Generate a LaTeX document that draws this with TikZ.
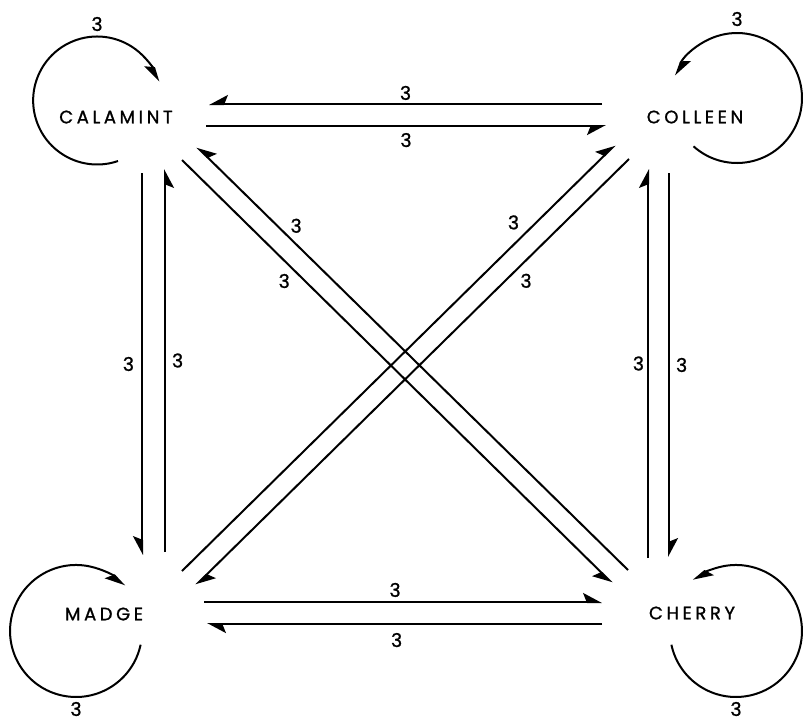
\documentclass[tikz,border=0pt]{standalone}
\usepackage{fontspec}
\usepackage{tikz}
\usetikzlibrary{arrows.meta}
\newfontfamily\plfont[LetterSpace=20, FakeBold=1.2]{Poppins}
\newfontfamily\numfont[FakeBold=1.0]{Poppins}

\begin{document}
\begin{tikzpicture}[x=1pt, y=1pt,
  place/.style={inner sep=0pt, font=\fontsize{18}{18}\selectfont\plfont},
  flow/.style={-{Stealth[harpoon, length=17pt, width=18pt, inset=3.5pt]}, line width=2pt},
  flowsw/.style={-{Stealth[harpoon, swap, length=17pt, width=18pt, inset=3.5pt]}, line width=2pt},
  lbl/.style={inner sep=2pt, font=\fontsize{19}{19}\selectfont\numfont}
]
\useasboundingbox (0,0) rectangle (803,-721);
% ================= the four places =================
\node[place] (cal) at (116,-117) {CALAMINT};
\node[place] (col) at (695,-117) {COLLEEN};
\node[place] (mad) at (104,-614) {MADGE};
\node[place] (che) at (692,-613) {CHERRY};
% ================= top and bottom pairs =================
\draw[flowsw] ([shift={(-93,13)}]col.center) -- node[lbl, above=1pt]{3} ([shift={(93,13)}]cal.center);
\draw[flowsw] ([shift={(90,-9)}]cal.center) -- node[lbl, below=4pt]{3} ([shift={(-89,-9)}]col.center);
\draw[flow] ([shift={(100,12)}]mad.center) -- node[lbl, above=2pt, pos=.48]{3} ([shift={(-90,11)}]che.center);
\draw[flow] ([shift={(-90,-11)}]che.center) -- node[lbl, below=6pt, pos=.52]{3} ([shift={(103,-10)}]mad.center);
% ================= left and right pairs =================
\draw[flowsw] ([shift={(26,-56)}]cal.center) -- node[lbl, left=5pt]{3} ([shift={(38,59)}]mad.center);
\draw[flowsw] ([shift={(61,62)}]mad.center) -- node[lbl, right=4pt]{3} ([shift={(49,-52)}]cal.center);
\draw[flow] ([shift={(-44,55)}]che.center) -- node[lbl, left=1pt]{3} ([shift={(-47,-52)}]col.center);
\draw[flow] ([shift={(-26,-56)}]col.center) -- node[lbl, right=4pt]{3} ([shift={(-23,56)}]che.center);
% ================= diagonals =================
\draw[flowsw] ([shift={(-64,43)}]che.center) -- node[lbl, above right=0pt, pos=.79]{3} ([shift={(81,-30)}]cal.center);
\draw[flowsw] ([shift={(66,-43)}]cal.center) -- node[lbl, below left=1pt, pos=.26]{3} ([shift={(-80,30)}]che.center);
\draw[flow] ([shift={(78,43)}]mad.center) -- node[lbl, above left=2pt, pos=.79]{3} ([shift={(-80,-28)}]col.center);
\draw[flow] ([shift={(-66,-42)}]col.center) -- node[lbl, below right=1pt, pos=.26]{3} ([shift={(92,29)}]mad.center);
% ================= self loops =================
\draw[flowsw] ([shift={(2,-44)}]cal.center) arc[start angle=-71, end angle=-343, radius=64];
\node[lbl] (calx) at ([shift={(-19,93)}]cal.center) {3};
\draw[flow] ([shift={(-1.5,-29.3)}]col.center) arc[start angle=-132, end angle=160, radius=65];
\node[lbl] (colx) at ([shift={(42,98)}]col.center) {3};
\draw[flowsw] ([shift={(36.6,-30.7)}]mad.center) arc[start angle=-12, end angle=-317, radius=66];
\node[lbl] (madx) at ([shift={(-28,-95)}]mad.center) {3};
\draw[flow] ([shift={(-20.6,-31.7)}]che.center) arc[start angle=192, end angle=490, radius=66];
\node[lbl] (chex) at ([shift={(44,-96)}]che.center) {3};
\end{tikzpicture}
\end{document}
